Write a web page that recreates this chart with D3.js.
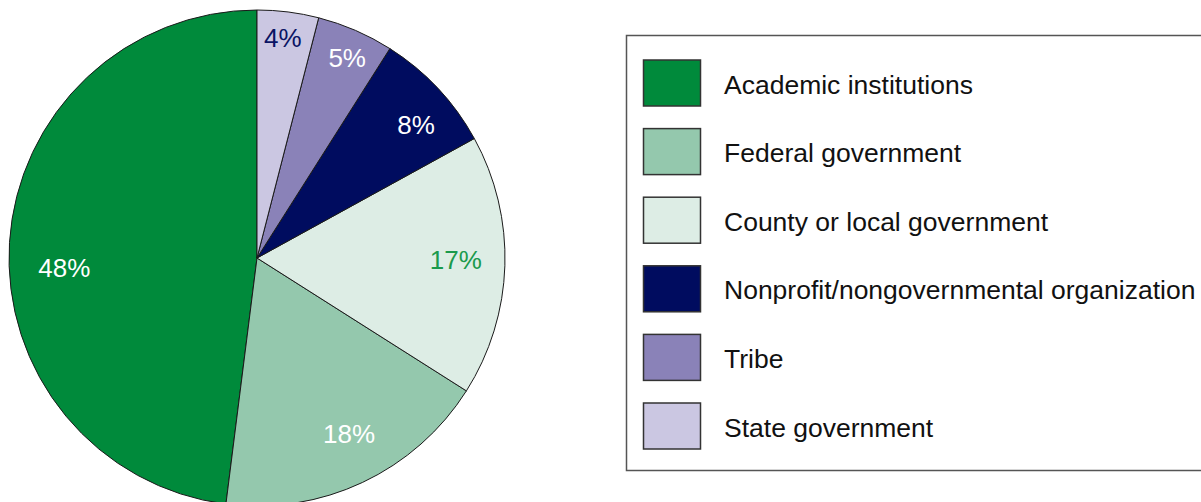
<!DOCTYPE html>
<html>
<head>
<meta charset="utf-8">
<script src="https://cdn.jsdelivr.net/npm/d3@7"></script>
<style>
  html, body { margin: 0; padding: 0; background: #fff; }
  svg { display: block; font-family: "Liberation Sans", Arial, sans-serif; }
</style>
</head>
<body>
<svg id="chart" width="1201" height="502"></svg>
<script>
// data, in legend order
const categories = [
    "Academic institutions",
    "Federal government",
    "County or local government",
    "Nonprofit/nongovernmental organization",
    "Tribe",
    "State government"
];
const shares = [48, 18, 17, 8, 5, 4];
const labels = ["48%", "18%", "17%", "8%", "5%", "4%"];

// styling
const fills = ["#008a3b", "#94c8ad", "#ddede5", "#000c5f", "#8a82b8", "#cbc7e2"];
const labelColors = ["#fff", "#fff", "#1a9a4c", "#fff", "#fff", "#0a1464"];
// label placement (Excel puts them near the rim, not exactly mid-slice)
const labelRadius = [0.778, 0.798, 0.802, 0.837, 0.887, 0.895]; // fraction of R
const labelShift = [-6.6, -2.5, -1.2, 3.2, 0.8, -0.5];           // degrees, clockwise

const svg = d3.select("#chart");
const cx = 257, cy = 258, R = 248;

// drawn counter-clockwise from 12 o'clock, like the original
const pie = d3.pie()
    .sort(null)
    .value(d => d)
    .startAngle(0)
    .endAngle(-2 * Math.PI);

const arcs = pie(shares);
const arc = d3.arc().innerRadius(0).outerRadius(R);

const g = svg.append("g").attr("transform", "translate(" + cx + "," + cy + ")");

g.selectAll("path.slice")
    .data(arcs)
    .enter()
    .append("path")
    .attr("class", "slice")
    .attr("d", arc)
    .attr("fill", (d, i) => fills[i])
    .attr("stroke", "#1a1a1a")
    .attr("stroke-width", 1);

g.selectAll("text.pct")
    .data(arcs)
    .enter()
    .append("text")
    .attr("class", "pct")
    .attr("transform", (d, i) => {
        const a = (d.startAngle + d.endAngle) / 2 + labelShift[i] * Math.PI / 180;
        const r = R * labelRadius[i];
        return "translate(" + (r * Math.sin(a)) + "," + (-r * Math.cos(a)) + ")";
    })
    .attr("text-anchor", "middle")
    .attr("dy", "0.36em")
    .attr("font-size", 26)
    .attr("fill", (d, i) => labelColors[i])
    .text((d, i) => labels[i]);

// legend
const legend = svg.append("g");
legend.append("rect")
    .attr("x", 626.5)
    .attr("y", 35.5)
    .attr("width", 600)
    .attr("height", 435)
    .attr("fill", "#fff")
    .attr("stroke", "#555")
    .attr("stroke-width", 1.5);

const rowY = d3.scalePoint()
    .domain(categories)
    .range([83, 426]);

const item = legend.selectAll("g.item")
    .data(categories)
    .enter()
    .append("g")
    .attr("class", "item")
    .attr("transform", d => "translate(0," + rowY(d) + ")");

item.append("rect")
    .attr("x", 643.5)
    .attr("y", -23)
    .attr("width", 57)
    .attr("height", 46)
    .attr("fill", (d, i) => fills[i])
    .attr("stroke", "#333")
    .attr("stroke-width", 1.5);

item.append("text")
    .attr("x", 724)
    .attr("dy", "0.4em")
    .attr("font-size", 26.5)
    .attr("fill", "#111")
    .text(d => d);
</script>
</body>
</html>
